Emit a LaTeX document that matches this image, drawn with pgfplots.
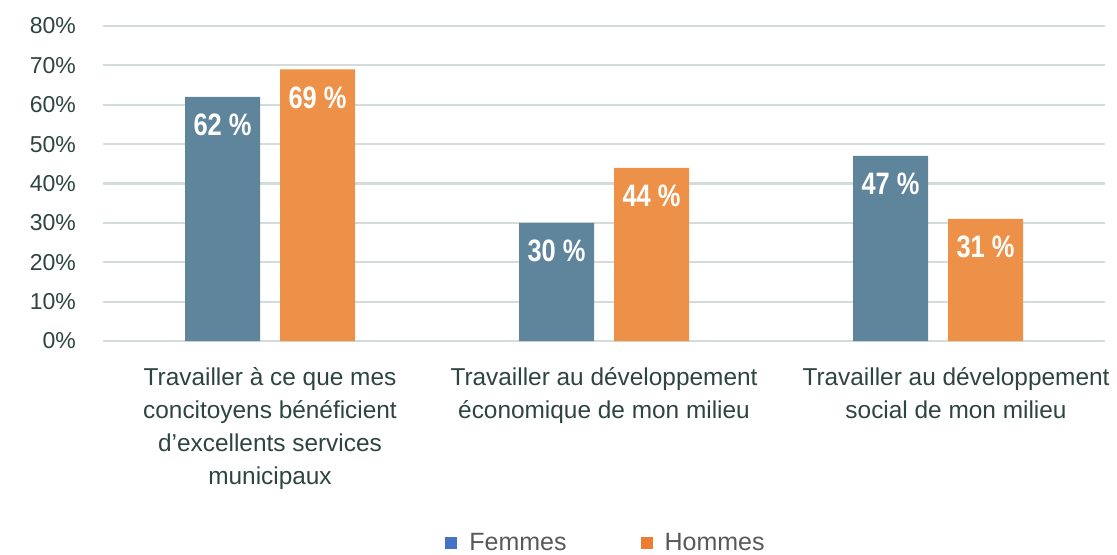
\documentclass[border=0pt]{standalone}
\usepackage{fontspec}
\setmainfont{Liberation Sans}
\newfontfamily\condbold[FakeStretch=0.82]{Liberation Sans Bold}
\usepackage{pgfplots}
\pgfplotsset{compat=1.18}

\definecolor{barblue}{RGB}{94,133,156}
\definecolor{barorange}{RGB}{238,145,72}
\definecolor{legblue}{RGB}{68,114,196}
\definecolor{legorange}{RGB}{237,125,49}
\definecolor{gridcol}{RGB}{211,220,217}
\definecolor{textcol}{RGB}{46,68,64}
\definecolor{legtext}{RGB}{89,89,89}

\begin{document}
\begin{tikzpicture}
\begin{axis}[
    scale only axis,
    width=501pt, height=157.5pt,
    ybar=10pt, bar width=37.5pt,
    xmin=-0.5, xmax=2.5,
    ymin=0, ymax=80,
    xtick={0,1,2},
    xticklabels={
      {Travailler à ce que mes\\concitoyens bénéficient\\d’excellents services\\municipaux},
      {Travailler au développement\\économique de mon milieu},
      {\hspace*{18pt}Travailler au développement\\\hspace*{18pt}social de mon milieu}},
    xticklabel style={align=center, anchor=north, yshift=-9.5pt,
      font=\fontsize{12.2}{16.5}\selectfont, text=textcol},
    ytick={0,10,...,80},
    yticklabel={\pgfmathprintnumber[assume math mode=true]{\tick}\%},
    yticklabel style={font=\fontsize{11.5}{12}\selectfont, text=textcol, xshift=-10pt},
    major tick length=0pt,
    axis line style={draw=none},
    ymajorgrids,
    grid style={draw=gridcol, line width=1.1pt},
    nodes near coords={\pgfmathprintnumber[assume math mode=true]{\pgfplotspointmeta}~\%},
    every node near coord/.append style={anchor=center, yshift=-14pt,
      text=white, font=\fontsize{15.5}{17}\condbold},
    legend style={at={(0.503,-0.641)}, anchor=center, draw=none,
      legend columns=2, font=\fontsize{12.5}{14}\selectfont, text=legtext,
      /tikz/every odd column/.append style={column sep=4pt},
      /tikz/every even column/.append style={column sep=35pt}},
    legend image code/.code={\fill[#1] (0pt,-3pt) rectangle (6pt,3pt);},
]
\addplot[fill=barblue, draw=none, legend image post style={fill=legblue}]
  coordinates {(0,62) (1,30) (2,47)};
\addlegendentry{Femmes}
\addplot[fill=barorange, draw=none, legend image post style={fill=legorange}]
  coordinates {(0,69) (1,44) (2,31)};
\addlegendentry{Hommes}
\end{axis}
\pgfresetboundingbox
\path (-51.5pt,-106.5pt) rectangle (507pt,170.5pt);
\end{tikzpicture}
\end{document}
